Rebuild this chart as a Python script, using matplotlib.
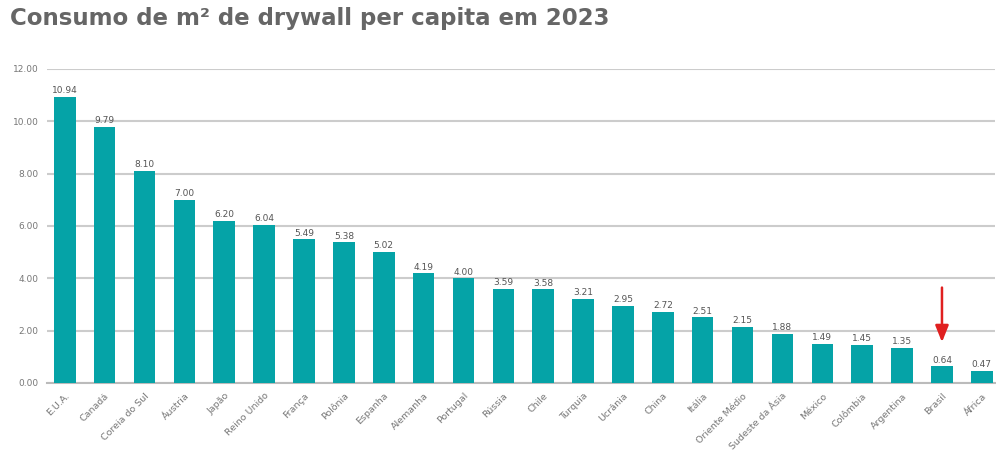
import numpy as np
import matplotlib.pyplot as plt

# data
countries = ["E.U.A.", "Canadá", "Coreia do Sul", "Áustria", "Japão", "Reino Unido",
             "França", "Polônia", "Espanha", "Alemanha", "Portugal", "Rússia",
             "Chile", "Turquia", "Ucrânia", "China", "Itália", "Oriente Médio",
             "Sudeste da Ásia", "México", "Colômbia", "Argentina", "Brasil", "África"]
consumo = [10.94, 9.79, 8.10, 7.00, 6.20, 6.04, 5.49, 5.38, 5.02, 4.19, 4.00, 3.59,
           3.58, 3.21, 2.95, 2.72, 2.51, 2.15, 1.88, 1.49, 1.45, 1.35, 0.64, 0.47]
yticks = [0, 2, 4, 6, 8, 10, 12]
highlight = "Brasil"

fig = plt.figure(figsize=(9.96, 4.5), dpi=100)
ax = fig.add_axes([0.047, 0.149, 0.952, 0.698])

x = np.arange(len(countries))
bars = ax.bar(x, consumo, width=0.54, color="#05a3a7", zorder=3)

for xi, v in zip(x, consumo):
    ax.text(xi, v + 0.06, f"{v:.2f}", ha="center", va="bottom",
            fontsize=6.5, color="#555555", zorder=4)

ax.set_ylim(0, 12)
ax.set_xlim(-0.45, len(countries) - 0.67)
ax.set_yticks(yticks)
ax.set_yticklabels([f"{t:.2f}" for t in yticks], fontsize=6.5, color="#777777")
ax.set_xticks(x)
ax.set_xticklabels(countries, rotation=45, ha="right", rotation_mode="anchor",
                   fontsize=6.8, color="#777777")
ax.tick_params(axis="both", length=0, pad=6)
ax.yaxis.grid(True, color="#cccccc", linewidth=1.5, zorder=0)
for s in ["top", "right", "left"]:
    ax.spines[s].set_visible(False)
ax.spines["bottom"].set_color("#bbbbbb")
ax.spines["bottom"].set_linewidth(1.5)

# red arrow on Brasil
bi = countries.index(highlight)
ax.annotate("", xy=(bi, 1.45), xytext=(bi, 3.75),
            arrowprops=dict(arrowstyle="-|>,head_width=0.4,head_length=1.0",
                            color="#e02020", lw=1.8), zorder=5)

fig.text(0.01, 0.958, "Consumo de m² de drywall per capita em 2023",
         fontsize=16.5, fontweight="bold", color="#666666", va="center", ha="left")

fig.savefig("out.png", dpi=100)
